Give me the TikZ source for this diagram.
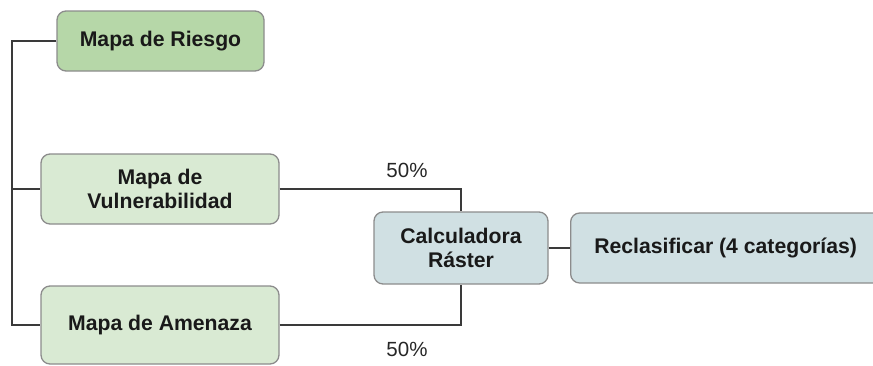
\documentclass[tikz,border=0pt]{standalone}
\usepackage{fontspec}
\setmainfont{Liberation Sans}
\definecolor{greendark}{HTML}{B6D7A8}
\definecolor{greenlight}{HTML}{D9EAD3}
\definecolor{bluegray}{HTML}{D0E0E3}
\definecolor{boxborder}{HTML}{8C8C8C}
\definecolor{linecol}{HTML}{3A3A3A}
\tikzset{
  box/.style={draw=boxborder, line width=1.3pt, rounded corners=9pt, align=center,
    font=\fontsize{21.2}{23.5}\selectfont\bfseries, inner sep=0pt, text=black!90},
  conn/.style={draw=linecol, line width=1.3pt},
  pct/.style={font=\fontsize{20.5}{22}\selectfont, text=black!85}
}
\begin{document}
\begin{tikzpicture}[x=1pt,y=-1pt]
\useasboundingbox (0,0) rectangle (873,365);
\begin{scope}
\clip (0,0) rectangle (873,365);
\node[box, fill=greendark, minimum width=207pt, minimum height=60pt] (riesgo) at (160.5,41) {Mapa de Riesgo};
\node[box, fill=greenlight, minimum width=238pt, minimum height=70pt] (vuln) at (160,189) {Mapa de\\Vulnerabilidad};
\node[box, fill=greenlight, minimum width=238pt, minimum height=78pt] (amen) at (160,325) {Mapa de Amenaza};
\node[box, fill=bluegray, minimum width=174pt, minimum height=72pt] (calc) at (461,248) {Calculadora\\Ráster};
\node[box, fill=bluegray, minimum width=314pt, minimum height=70pt, anchor=west] (recl) at (570,248) {\hspace*{-2pt}Reclasificar (4 categorías)\hspace*{2pt}};
\coordinate (trunk) at (12,41);
\coordinate (vj) at (461,189);
\coordinate (aj) at (461,325);
\draw[conn] (riesgo.west) -- (trunk) |- (amen.west);
\draw[conn] (trunk |- vuln.west) -- (vuln.west);
\draw[conn] (vuln.east) -- (vj) -- (calc.north);
\draw[conn] (amen.east) -- (aj) -- (calc.south);
\draw[conn] (calc.east) -- (recl.west);
\node[pct] (p1) at (407,170) {50\%};
\node[pct] (p2) at (407,349) {50\%};
\end{scope}
\end{tikzpicture}
\end{document}
